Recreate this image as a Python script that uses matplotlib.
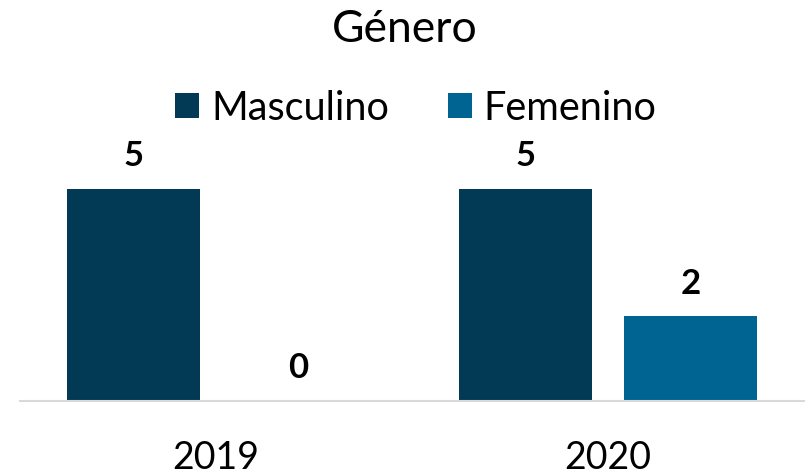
import matplotlib
matplotlib.use("Agg")
import matplotlib.pyplot as plt
import numpy as np

plt.rcParams['font.family'] = ['Lato', 'DejaVu Sans']

years = ["2019", "2020"]
series_names = ["Masculino", "Femenino"]
masculino = [5, 5]
femenino = [0, 2]
colors = ["#023a55", "#006492"]

fig = plt.figure(figsize=(8.1, 4.76), dpi=100)
W, H = 810, 476
ax = fig.add_axes([20 / W, (H - 401) / H, 784 / W, 254.4 / H])

x = np.arange(len(years))
bw = 0.339
off = 0.2105
b1 = ax.bar(x - off, masculino, bw, color=colors[0], label=series_names[0])
b2 = ax.bar(x + off, femenino, bw, color=colors[1], label=series_names[1])

for bars, vals in ((b1, masculino), (b2, femenino)):
    for r, v in zip(bars, vals):
        ax.annotate(str(v), (r.get_x() + r.get_width() / 2, v),
                    xytext=(0, 12), textcoords="offset points",
                    ha="center", va="bottom", fontsize=25, fontweight="bold")

ax.set_xlim(-0.5, 1.5)
ax.set_ylim(0, 6)
for s in ("top", "right", "left"):
    ax.spines[s].set_visible(False)
ax.spines["bottom"].set_color("#d9d9d9")
ax.spines["bottom"].set_linewidth(1.5)
ax.set_yticks([])
ax.set_xticks(x)
ax.set_xticklabels(years, fontsize=27)
ax.tick_params(axis="x", length=0, pad=28)

fig.text(0.5, (H - 30) / H, "Género", ha="center", va="center", fontsize=32)

fig.legend(handles=[b1, b2], loc="center", bbox_to_anchor=(416 / W, (H - 108) / H),
           ncol=2, frameon=False, fontsize=28.5, handlelength=0.6, handleheight=0.6,
           handletextpad=0.3, columnspacing=1.5)

fig.savefig("out.png", dpi=100)
